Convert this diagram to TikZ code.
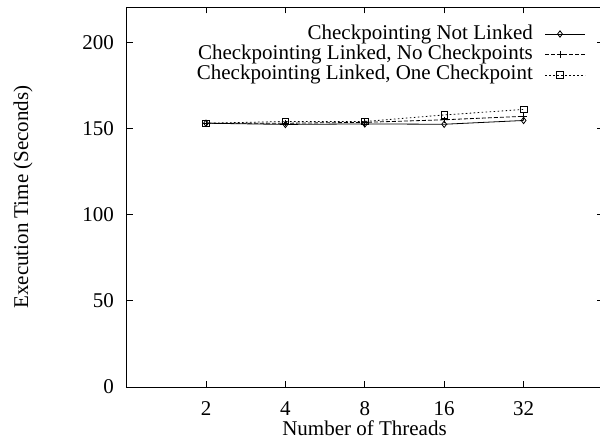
\documentclass[tikz,border=0pt]{standalone}
\usepackage{fontspec}
\setmainfont{Liberation Serif}
\usetikzlibrary{plotmarks}
\begin{document}
\begin{tikzpicture}[x=1pt,y=1pt,
  lbl/.style={inner sep=0pt,font=\fontsize{21}{25}\selectfont},
  frm/.style={line width=0.9pt,line cap=rect},
  ser/.style={line width=0.8pt},
  nlser/.style={ser,solid,mark=diamond,mark size=3.2pt,mark options={solid,line width=0.8pt}},
  ncser/.style={ser,dash pattern=on 4pt off 2pt,mark=+,mark size=3.2pt,mark options={solid,line width=0.8pt}},
  ocser/.style={ser,dash pattern=on 1.6pt off 2.4pt,mark=square,mark size=3.3pt,mark options={solid,line width=0.8pt}}]
\useasboundingbox (0,0) rectangle (600,445);
\clip (0,0) rectangle (600,445);
\begin{scope}[shift={(126.6,58)},x=79.4pt,y=1.724pt]
  \draw[frm] (0,0) rectangle (6,220.4);
  \foreach \i/\l in {1/2,2/4,3/8,4/16,5/32}{
    \draw[frm] (\i,0) -- ++(0,6pt);
    \draw[frm] (\i,220.4) -- ++(0,-6pt);
    \node[lbl,anchor=base] (xt\l) at ([yshift=-28pt]\i,0) {\l};
  }
  \foreach \v in {0,50,100,150,200}{
    \draw[frm] (0,\v) -- ++(6pt,0);
    \draw[frm] (6,\v) -- ++(-6pt,0);
    \node[lbl,anchor=east] (yt\v) at ([xshift=-12.6pt]0,\v) {\v};
  }
  \draw[nlser] plot coordinates {(1,153) (2,152.3) (3,152.6) (4,152.4) (5,154.6)};
  \draw[ncser] plot coordinates {(1,153) (2,153) (3,153.5) (4,155) (5,157)};
  \draw[ocser] plot coordinates {(1,153) (2,154) (3,154) (4,157.8) (5,161)};
\end{scope}
\node[lbl,anchor=base] (xlab) at (364.5,10) {Number of Threads};
\node[lbl,rotate=90] (ylab) at (23,248) {Execution Time (Seconds)};
% legend
\node[lbl,anchor=base east] (k1) at (533,405) {Checkpointing Not Linked};
\node[lbl,anchor=base east] (k2) at (533,385) {Checkpointing Linked, No Checkpoints};
\node[lbl,anchor=base east] (k3) at (533,365) {Checkpointing Linked, One Checkpoint};
\coordinate (s1a) at (545,411); \coordinate (s1b) at (585,411);
\coordinate (s2a) at (545,390.5); \coordinate (s2b) at (585,390.5);
\coordinate (s3a) at (545,370); \coordinate (s3b) at (585,370);
\draw[ser] (s1a) -- (s1b);
\draw[ser,dash pattern=on 4pt off 2pt] (s2a) -- (s2b);
\draw[ser,dash pattern=on 1.6pt off 2.4pt] (s3a) -- (s3b);
\draw[nlser] plot coordinates {(560,411)};
\draw[ncser] plot coordinates {(560,390.5)};
\draw[ocser] plot coordinates {(560,370)};
\end{tikzpicture}
\end{document}
